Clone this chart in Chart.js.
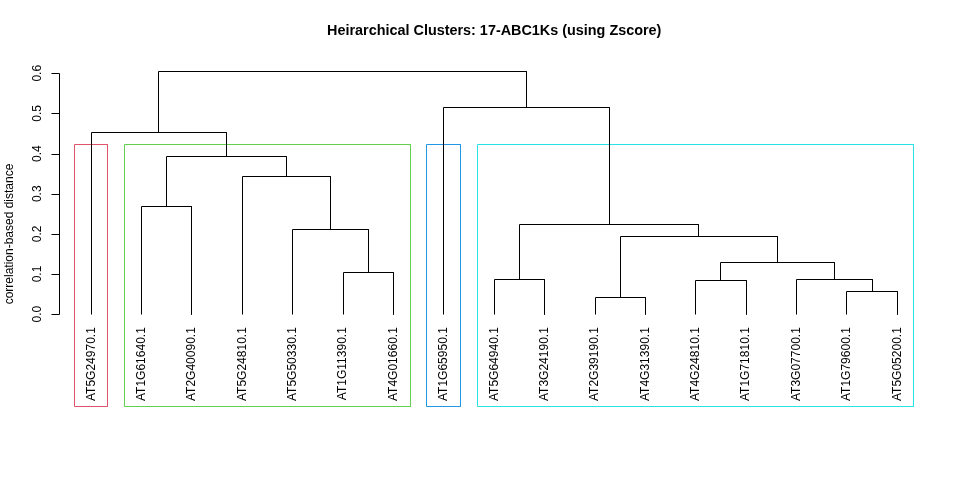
<!DOCTYPE html>
<html>
<head>
<meta charset="utf-8">
<script src="https://cdn.jsdelivr.net/npm/chart.js@4"></script>
<style>
html,body{margin:0;padding:0;background:#fff;}
#wrap{width:960px;height:480px;}
</style>
</head>
<body>
<div id="wrap"><canvas id="c" width="960" height="480"></canvas></div>
<script>
// ---- data ----
const chartTitle = "Heirarchical Clusters: 17-ABC1Ks (using Zscore)";
const yAxisTitle = "correlation-based distance";
const leafLabels = ["AT5G24970.1","AT1G61640.1","AT2G40090.1","AT5G24810.1","AT5G50330.1","AT1G11390.1","AT4G01660.1","AT1G65950.1","AT5G64940.1","AT3G24190.1","AT2G39190.1","AT4G31390.1","AT4G24810.1","AT1G71810.1","AT3G07700.1","AT1G79600.1","AT5G05200.1"];
// hclust-style merges: negative = leaf (1-based position), positive = earlier merge
const mergeLeft   = [-11, -16, -13, -9, -15, -6, 3, 1, -5, 4, -2, -4, 11, -1, -8, 14];
const mergeRight  = [-12, -17, -14, -10, 2, -7, 5, 7, 6, 8, -3, 9, 12, 13, 10, 15];
const mergeHeight = [0.0416, 0.0566, 0.084, 0.0865, 0.0866, 0.1044, 0.129, 0.194, 0.2115, 0.224, 0.269, 0.343, 0.393, 0.453, 0.515, 0.605];
const yTicks = [0.0, 0.1, 0.2, 0.3, 0.4, 0.5, 0.6];
const clusterFirstLeaf = [1, 2, 8, 9];
const clusterLastLeaf  = [1, 7, 8, 17];
const clusterColors = ["#DF536B", "#61D04F", "#2297E6", "#28E2E5"];

// ---- build datasets ----
const nodeX = [], nodeH = [];
function childPos(ref){ return ref < 0 ? {x: -ref, h: 0} : {x: nodeX[ref-1], h: nodeH[ref-1]}; }
const datasets = [];
for (let i = 0; i < mergeHeight.length; i++) {
  const a = childPos(mergeLeft[i]), b = childPos(mergeRight[i]);
  const h = mergeHeight[i];
  nodeX.push((a.x + b.x) / 2); nodeH.push(h);
  datasets.push({
    data: [{x:a.x,y:a.h},{x:a.x,y:h},{x:b.x,y:h},{x:b.x,y:b.h}],
    borderColor: "#000", borderWidth: 1, showLine: true, pointRadius: 0, fill: false, tension: 0, clip: false
  });
}
const Y_MIN = -0.2286, Y_MAX = 0.628;
const sortedH = mergeHeight.slice().sort((p,q)=>q-p);
const k = clusterFirstLeaf.length;
const rectTop = (sortedH[k-2] + sortedH[k-1]) / 2;
for (let i = 0; i < k; i++) {
  const x1 = clusterFirstLeaf[i] - 0.34, x2 = clusterLastLeaf[i] + 0.33;
  datasets.push({
    data: [{x:x1,y:Y_MIN},{x:x1,y:rectTop},{x:x2,y:rectTop},{x:x2,y:Y_MIN},{x:x1,y:Y_MIN}],
    borderColor: clusterColors[i], borderWidth: 1, showLine: true, pointRadius: 0, fill: false, tension: 0, clip: false
  });
}

const FONT = "'Liberation Sans', Arial, sans-serif";

// snap line vertices to pixel centres for crisp 1px strokes (like R's device)
const crisp = {
  id: "crisp",
  beforeDatasetsDraw(chart) {
    chart.data.datasets.forEach((d, i) => {
      const meta = chart.getDatasetMeta(i);
      meta.data.forEach(p => {
        p.x = Math.round(p.x - 0.5) + 0.5;
        p.y = Math.round(p.y - 0.5) + 0.5;
      });
    });
  }
};

const rAxes = {
  id: "rAxes",
  afterDraw(chart) {
    const ctx = chart.ctx, xs = chart.scales.x, ys = chart.scales.y;
    const ax = Math.round(chart.chartArea.left) + 0.5;
    ctx.save();
    ctx.strokeStyle = "#000"; ctx.lineWidth = 1;
    ctx.beginPath();
    ctx.moveTo(ax, Math.round(ys.getPixelForValue(yTicks[0])) + 0.5);
    ctx.lineTo(ax, Math.round(ys.getPixelForValue(yTicks[yTicks.length-1])) + 0.5);
    yTicks.forEach(v => {
      const py = Math.round(ys.getPixelForValue(v)) + 0.5;
      ctx.moveTo(ax, py); ctx.lineTo(ax - 8, py);
    });
    ctx.stroke();
    ctx.fillStyle = "#000";
    ctx.font = "12px " + FONT;
    ctx.textAlign = "center"; ctx.textBaseline = "middle";
    yTicks.forEach(v => {
      const py = ys.getPixelForValue(v);
      ctx.save(); ctx.translate(38, py); ctx.rotate(-Math.PI/2);
      ctx.fillText(v.toFixed(1), 0, 0); ctx.restore();
    });
    // axis title
    ctx.save(); ctx.translate(9.5, (chart.chartArea.top + chart.chartArea.bottom) / 2); ctx.rotate(-Math.PI/2);
    ctx.fillText(yAxisTitle, 0, 0); ctx.restore();
    // leaf labels
    const y0 = ys.getPixelForValue(0);
    ctx.textAlign = "right";
    leafLabels.forEach((lab, i) => {
      const px = xs.getPixelForValue(i + 1);
      ctx.save(); ctx.translate(px, y0 + 13); ctx.rotate(-Math.PI/2);
      ctx.fillText(lab, 0, 0); ctx.restore();
    });
    ctx.restore();
  }
};

new Chart(document.getElementById("c"), {
  type: "scatter",
  data: { datasets },
  options: {
    responsive: false, animation: false, devicePixelRatio: 1,
    layout: { padding: { left: 59, right: 30.5, top: 0, bottom: 74 } },
    plugins: {
      legend: { display: false }, tooltip: { enabled: false },
      title: { display: true, text: chartTitle, color: "#000",
               font: { family: FONT, size: 14.4, weight: "bold", lineHeight: 1.2 },
               padding: { top: 22.5, bottom: 22.2 } }
    },
    scales: {
      x: { type: "linear", min: 0.36, max: 17.64, display: false },
      y: { type: "linear", min: Y_MIN, max: Y_MAX, display: false }
    }
  },
  plugins: [crisp, rAxes]
});
</script>
</body>
</html>
